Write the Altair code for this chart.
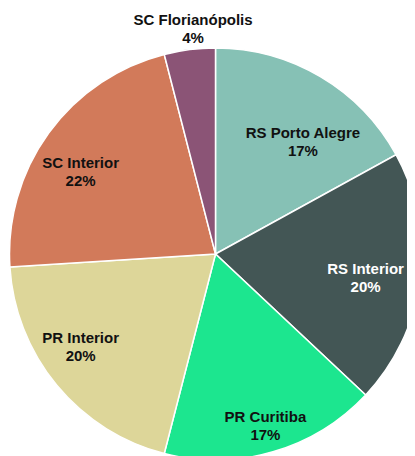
import altair as alt
import pandas as pd
import numpy as np

categories = ["RS Porto Alegre", "RS Interior", "PR Curitiba", "PR Interior", "SC Interior", "SC Florianópolis"]
shares = [17, 20, 17, 20, 22, 4]
pct_labels = ["17%", "20%", "17%", "20%", "22%", "4%"]

slice_colors = ["#86C1B5", "#435655", "#1CE68F", "#DDD699", "#D27A5A", "#8B5476"]
text_colors = ["#111111", "#FFFFFF", "#111111", "#111111", "#111111", "#111111"]
# label placement (style): distance from centre in px and angular nudge in degrees
label_radius = [142, 152, 179, 164, 158, 226]
label_nudge_deg = [7.4, 1.9, 0.0, 4.9, -4.6, 1.5]

vals = np.array(shares, dtype=float)
mid = 2 * np.pi * (np.cumsum(vals) - vals / 2) / vals.sum() + np.radians(label_nudge_deg)

df = pd.DataFrame({
    "cat": categories,
    "val": shares,
    "idx": list(range(len(categories))),
    "label": [f"{c}\n{p}" for c, p in zip(categories, pct_labels)],
    "tc": text_colors,
    "lr": label_radius,
    "mid": mid,
})

cx, cy, R = 207.5, 246, 206

base = alt.Chart(df)

arcs = base.mark_arc(stroke="white", strokeWidth=1.5).encode(
    theta=alt.Theta("val:Q", stack=True),
    color=alt.Color("cat:N", scale=alt.Scale(domain=categories, range=slice_colors), legend=None),
    order=alt.Order("idx:Q"),
    x=alt.value(cx),
    y=alt.value(cy),
    radius=alt.value(R),
)

labels = base.mark_text(
    lineBreak="\n", font="Liberation Sans", fontWeight="bold", fontSize=15,
    lineHeight=18, align="center", baseline="middle", dy=-9,
).encode(
    theta=alt.Theta("mid:Q", scale=None),
    radius=alt.Radius("lr:Q", scale=None),
    text="label:N",
    fill=alt.Fill("tc:N", scale=None),
    x=alt.value(cx),
    y=alt.value(cy),
)

chart = alt.layer(arcs, labels).properties(
    width=399, height=448, padding=0, autosize=alt.AutoSizeParams(type="none")
).configure_view(stroke=None)

chart.save("out.html", embed_options={"renderer": "svg", "actions": False})
